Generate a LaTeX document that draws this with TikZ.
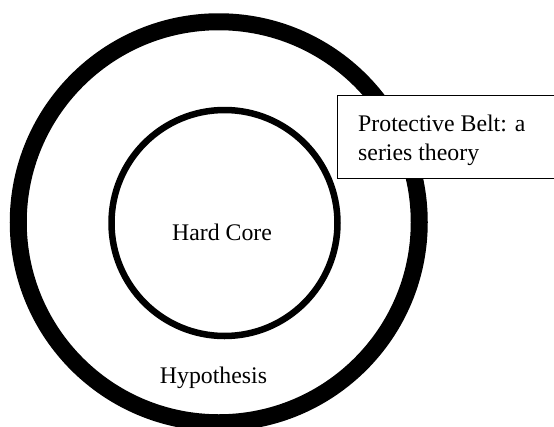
\documentclass[tikz,border=0pt]{standalone}
\usepackage{fontspec}
\setmainfont{Liberation Serif}
\begin{document}
\begin{tikzpicture}[x=1pt,y=-1pt,
  ring/.style={circle, draw=black, fill=none, inner sep=0pt},
  label/.style={inner sep=0pt, font=\fontsize{23.8}{28.3}\selectfont},
  beltbox/.style={draw=black, fill=white, line width=1.2pt, inner sep=0pt, anchor=north west}]
\useasboundingbox (0,0) rectangle (554,426);
% outer ring: the protective belt
\node[ring, line width=17pt, minimum size=401pt] (outer) at (218.75,222.25) {};
% inner ring: the hard core
\node[ring, line width=6.5pt, minimum size=226pt] (core) at (224.5,223) {};
% caption box on the right, running off the page edge
\node[beltbox, minimum width=240pt, minimum height=83pt] (belt) at (337,95) {};
\node[label, anchor=base west] (beltA) at (358,131.7) {Protective Belt: a};
\node[label, anchor=base west] (beltB) at (358,160) {series theory};
% labels inside the rings
\node[label, anchor=base] (hard) at (222,240) {Hard Core};
\node[label, anchor=base] (hyp) at (213.5,383) {Hypothesis};
\end{tikzpicture}
\end{document}
